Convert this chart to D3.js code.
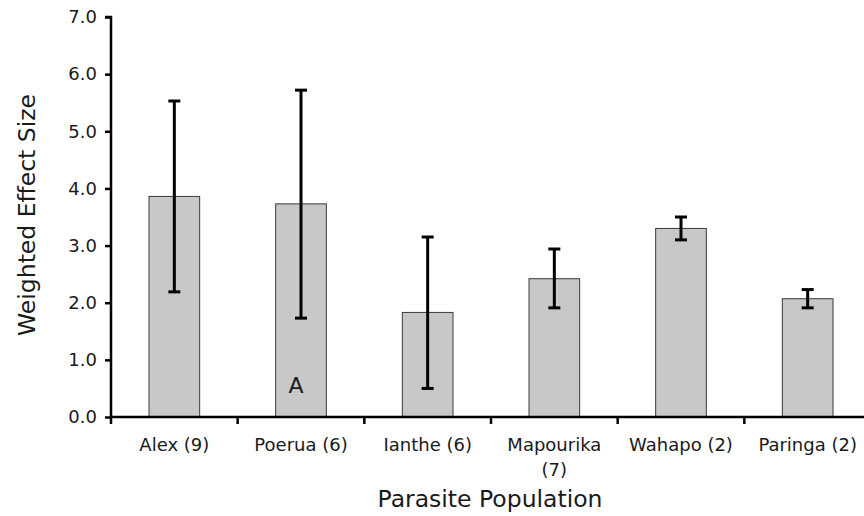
<!DOCTYPE html>
<html>
<head>
<meta charset="utf-8">
<script src="https://cdn.jsdelivr.net/npm/d3@7"></script>
<style>
  body { margin: 0; background: #fff; }
  text { font-family: "DejaVu Sans", Verdana, sans-serif; fill: #1a1a1a; }
</style>
</head>
<body>
<script>
// data
var populations = ["Alex (9)", "Poerua (6)", "Ianthe (6)", "Mapourika (7)", "Wahapo (2)", "Paringa (2)"];
var effectSize = [3.86, 3.73, 1.83, 2.42, 3.30, 2.07];
var errLow = [2.19, 1.73, 0.50, 1.91, 3.10, 1.91];
var errHigh = [5.53, 5.72, 3.15, 2.94, 3.50, 2.23];
var yTicks = [0, 1, 2, 3, 4, 5, 6, 7];
var annotations = [{pop: "Poerua (6)", text: "A"}];

var w = 864, h = 516;

var svg = d3.select("body").append("svg").attr("width", w).attr("height", h);

var x = d3.scaleBand().domain(populations).range([111, 871]).padding(0);
var y = d3.scaleLinear().domain([0, 7]).range([417, 17]);
var barW = x.bandwidth() * 0.4;

var rows = populations.map(function (p, i) {
  return {pop: p, v: effectSize[i], lo: errLow[i], hi: errHigh[i]};
});

// bars
svg.append("g").selectAll("rect")
  .data(rows)
  .enter().append("rect")
    .attr("x", function (d) { return x(d.pop) + x.bandwidth() / 2 - barW / 2; })
    .attr("y", function (d) { return y(d.v); })
    .attr("width", barW)
    .attr("height", function (d) { return y(0) - y(d.v); })
    .attr("fill", "#c8c8c8")
    .attr("stroke", "#3a3a3a")
    .attr("stroke-width", 1);

// error bars
var eb = svg.append("g").attr("stroke", "#000").attr("stroke-width", 3);
rows.forEach(function (d) {
  var cx = x(d.pop) + x.bandwidth() / 2;
  eb.append("line").attr("x1", cx).attr("x2", cx).attr("y1", y(d.lo)).attr("y2", y(d.hi));
  eb.append("line").attr("x1", cx - 6).attr("x2", cx + 6).attr("y1", y(d.lo)).attr("y2", y(d.lo));
  eb.append("line").attr("x1", cx - 6).attr("x2", cx + 6).attr("y1", y(d.hi)).attr("y2", y(d.hi));
});

// annotation letter inside bar (sits a little left of centre)
svg.append("g").selectAll("text")
  .data(annotations)
  .enter().append("text")
    .attr("x", function (d) { return x(d.pop) + x.bandwidth() / 2 - 5; })
    .attr("y", 393)
    .attr("text-anchor", "middle")
    .style("font-size", "22px")
    .text(function (d) { return d.text; });

// y axis
var yAxis = svg.append("g")
  .attr("transform", "translate(111,0)")
  .call(d3.axisLeft(y).tickValues(yTicks).tickFormat(d3.format(".1f")).tickSize(6).tickPadding(8));
yAxis.select(".domain").attr("stroke-width", 2.5).attr("d", "M-6," + y(7) + "H0V" + y(0));
yAxis.selectAll(".tick line").attr("stroke-width", 2.5);
yAxis.selectAll("text").style("font-size", "18px").attr("fill", "#1a1a1a");

// x axis
var xAxis = svg.append("g")
  .attr("transform", "translate(0," + y(0) + ")")
  .call(d3.axisBottom(x).tickSize(0).tickPadding(21));
xAxis.select(".domain").attr("stroke-width", 2.5).attr("d", "M111,0H871");
xAxis.selectAll(".tick line").remove();
xAxis.selectAll("text").style("font-size", "18px").attr("fill", "#1a1a1a");

// boundary ticks between categories
svg.append("g").selectAll("line")
  .data(populations)
  .enter().append("line")
    .attr("x1", function (d) { return x(d); })
    .attr("x2", function (d) { return x(d); })
    .attr("y1", y(0))
    .attr("y2", y(0) + 7)
    .attr("stroke", "#000")
    .attr("stroke-width", 2.5);

// wrap long labels
xAxis.selectAll(".tick text").each(function (d) {
  if (d.length > 12) {
    var parts = d.split(" ");
    var t = d3.select(this).text(null);
    t.append("tspan").attr("x", 0).attr("dy", "0.71em").text(parts[0]);
    t.append("tspan").attr("x", 0).attr("dy", "1.4em").text(parts.slice(1).join(" "));
    t.attr("dy", null);
  }
});

// axis titles
svg.append("text")
  .attr("transform", "translate(35,215) rotate(-90)")
  .attr("text-anchor", "middle")
  .style("font-size", "23.5px")
  .text("Weighted Effect Size");

svg.append("text")
  .attr("x", 490)
  .attr("y", 507)
  .attr("text-anchor", "middle")
  .style("font-size", "23.5px")
  .text("Parasite Population");
</script>
</body>
</html>
